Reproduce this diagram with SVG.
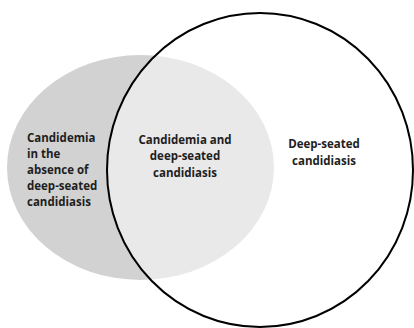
<svg xmlns="http://www.w3.org/2000/svg" width="414" height="328" viewBox="0 0 414 328">
<style>
text{font-family:"Open Sans","Liberation Sans",sans-serif;font-weight:bold;font-size:11.5px;fill:#1e1e1e}
.c{text-anchor:middle}
</style>
<rect width="414" height="328" fill="#fff"/>
<g id="candidemia">
<ellipse cx="140.5" cy="167.5" rx="133.5" ry="112.5" fill="#d2d2d2"/>
</g>
<g id="deep-seated">
<ellipse cx="260" cy="170" rx="153" ry="157" fill="#fff" fill-opacity="0.5" stroke="#000" stroke-width="2"/>
</g>
<g id="labels">
<text x="27" y="142">Candidemia</text>
<text x="27" y="158">in the</text>
<text x="27" y="174">absence of</text>
<text x="27" y="190">deep-seated</text>
<text x="27" y="206">candidiasis</text>
<text class="c" x="185" y="143.5">Candidemia and</text>
<text class="c" x="185" y="160">deep-seated</text>
<text class="c" x="185" y="176.5">candidiasis</text>
<text class="c" x="324" y="148">Deep-seated</text>
<text class="c" x="324" y="164.5">candidiasis</text>
</g>
</svg>
